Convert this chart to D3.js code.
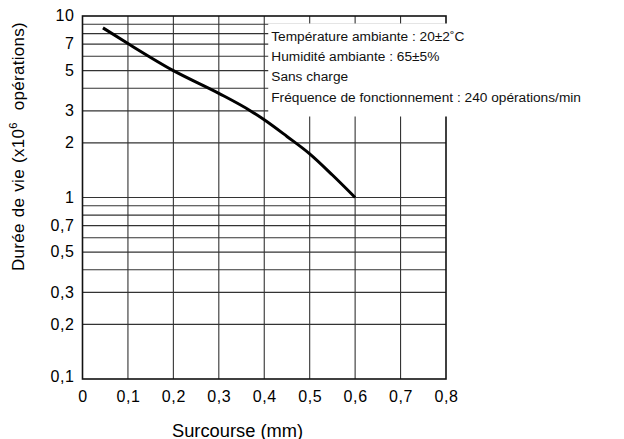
<!DOCTYPE html>
<html>
<head>
<meta charset="utf-8">
<script src="https://cdn.jsdelivr.net/npm/d3@7"></script>
<style>
  body { margin: 0; background: #fff; }
  svg { display: block; font-family: 'Liberation Sans', Arial, sans-serif; }
</style>
</head>
<body>
<div class="chart"></div>
<script>
const width = 624
const height = 439
const margin = { top: 16, right: 178, bottom: 60, left: 82.5 }

// curve
const overtravel = [0.045, 0.1, 0.2, 0.3, 0.37, 0.4, 0.45, 0.5, 0.55, 0.6]
const lifeValues = [8.6, 7.05, 5.0, 3.75, 3.0, 2.68, 2.17, 1.74, 1.33, 1.0]

const xTicks = [0, 0.1, 0.2, 0.3, 0.4, 0.5, 0.6, 0.7, 0.8]
const yTicks = [10, 7, 5, 3, 2, 1, 0.7, 0.5, 0.3, 0.2, 0.1]
const yGrid = [0.2, 0.3, 0.4, 0.5, 0.6, 0.7, 0.8, 0.9, 1, 2, 3, 4, 5, 6, 7, 8, 9]

const conditions = [
  'Température ambiante : 20±2˚C',
  'Humidité ambiante : 65±5%',
  'Sans charge',
  'Fréquence de fonctionnement : 240 opérations/min'
]

const fmt = d => String(d).replace('.', ',')

const svg = d3.select('.chart')
  .append('svg')
  .attr('width', width)
  .attr('height', height)

const x = d3.scaleLinear()
  .domain([0, 0.8])
  .range([margin.left, width - margin.right])

const y = d3.scaleLog()
  .domain([0.1, 10])
  .range([height - margin.bottom, margin.top])

// grid
const grid = svg.append('g').attr('stroke', '#333').attr('stroke-width', 1.1)

grid.selectAll('.hgrid')
  .data(yGrid)
  .join('line')
  .attr('class', 'hgrid')
  .attr('x1', x(0))
  .attr('x2', x(0.8))
  .attr('y1', d => y(d))
  .attr('y2', d => y(d))

grid.selectAll('.vgrid')
  .data(xTicks.slice(1, -1))
  .join('line')
  .attr('class', 'vgrid')
  .attr('x1', d => x(d))
  .attr('x2', d => x(d))
  .attr('y1', y(10))
  .attr('y2', y(0.1))

// frame
svg.append('rect')
  .attr('x', x(0))
  .attr('y', y(10))
  .attr('width', x(0.8) - x(0))
  .attr('height', y(0.1) - y(10))
  .attr('fill', 'none')
  .attr('stroke', '#111')
  .attr('stroke-width', 1.6)

// white box behind the conditions
svg.append('rect')
  .attr('x', x(0.4) + 4)
  .attr('y', 23.5)
  .attr('width', width - x(0.4))
  .attr('height', 93)
  .attr('fill', '#fff')

const cond = svg.append('g')
  .attr('font-size', 13.7)
  .attr('fill', '#111')

cond.selectAll('text')
  .data(conditions)
  .join('text')
  .attr('x', x(0.4) + 7)
  .attr('y', (d, i) => 40.5 + i * 20.4)
  .text(d => d)

// curve
const line = d3.line()
  .x(d => x(d[0]))
  .y(d => y(d[1]))
  .curve(d3.curveMonotoneX)

svg.append('path')
  .datum(d3.zip(overtravel, lifeValues))
  .attr('d', line)
  .attr('fill', 'none')
  .attr('stroke', '#000')
  .attr('stroke-width', 3)

// tick labels
svg.append('g')
  .attr('font-size', 16)
  .attr('letter-spacing', 0.6)
  .attr('text-anchor', 'middle')
  .selectAll('text')
  .data(xTicks)
  .join('text')
  .attr('x', d => x(d) + 0.5)
  .attr('y', 401.5)
  .text(fmt)

svg.append('g')
  .attr('font-size', 16)
  .attr('letter-spacing', 0.6)
  .attr('text-anchor', 'end')
  .selectAll('text')
  .data(yTicks)
  .join('text')
  .attr('x', x(0) - 8)
  .attr('y', d => y(d) + (d === 0.1 ? 2.5 : 5.2))
  .text(fmt)

// axis titles
svg.append('text')
  .attr('x', 237.5)
  .attr('y', 436.5)
  .attr('font-size', 18.3)
  .attr('text-anchor', 'middle')
  .text('Surcourse (mm)')

const yTitle = svg.append('text')
  .attr('transform', 'translate(24,146.5) rotate(-90)')
  .attr('font-size', 17)
  .attr('letter-spacing', 0.3)
  .attr('word-spacing', 1)
  .attr('text-anchor', 'middle')
  .attr('xml:space', 'preserve')

yTitle.append('tspan').text('Durée de vie (x10')
yTitle.append('tspan').attr('font-size', 11).attr('dy', -7).text('6')
yTitle.append('tspan').attr('dy', 7).text('  opérations)')
</script>
</body>
</html>
